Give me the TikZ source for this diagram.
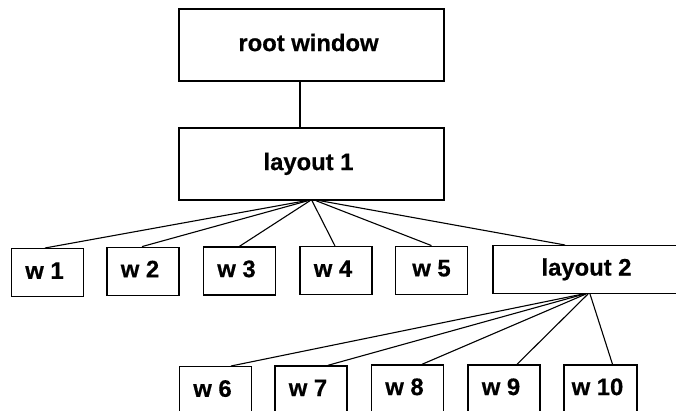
\documentclass[tikz,border=0pt]{standalone}
\usepackage{fontspec}
\setmainfont{Liberation Sans}
\newfontfamily\heavyfont{Liberation Sans}[UprightFont=*-Bold,FakeBold=0.6]
\begin{document}
\begin{tikzpicture}[x=1pt,y=-1pt,
  box/.style={draw,line width=1.4pt,inner sep=0pt,minimum width=72pt,minimum height=48pt,
    font=\heavyfont\fontsize{23.8}{28}\selectfont,text height=17pt,text depth=4.9pt},
  shiftl/.style={execute at begin node=\hspace*{-6pt}},
  big/.style={box,minimum width=265pt,minimum height=72pt},
  link/.style={line width=1.1pt}]
\path[use as bounding box] (0,0) rectangle (676,411);
\clip (0,0) rectangle (676,411);
\node[big,shiftl] (root) at (311.5,45) {root window};
\node[big,shiftl] (l1) at (311.5,164) {layout 1};
\node[box,shiftl] (w1) at (47.5,272.7) {w 1};
\node[box,shiftl] (w2) at (143,271.3) {w 2};
\node[box,shiftl] (w3) at (239.5,271) {w 3};
\node[box,shiftl] (w4) at (336,270.7) {w 4};
\node[box] (w5) at (431.5,270.3) {w 5};
\node[box,minimum width=187pt,minimum height=47.6pt] (l2) at (586.5,269.5) {layout 2};
\node[box,shiftl] (w6) at (215.5,390.7) {w 6};
\node[box,shiftl] (w7) at (311,390) {w 7};
\node[box,shiftl] (w8) at (407.5,389) {w 8};
\node[box,shiftl] (w9) at (504,389) {w 9};
\node[box,shiftl,minimum width=73pt] (w10) at (600.5,389) {w 10};
\draw[link] ([xshift=-11.5pt]root.south) -- ([xshift=-11.5pt]l1.north);
\draw[link] ([xshift=-5.5pt]l1.south) -- ([xshift=-2.5pt]w1.north);
\draw[link] ([xshift=-3.5pt]l1.south) -- ([xshift=-1pt]w2.north);
\draw[link] ([xshift=-1.5pt]l1.south) -- (w3.north);
\draw[link] ([xshift=0.5pt]l1.south) -- ([xshift=-1pt]w4.north);
\draw[link] ([xshift=4.5pt]l1.south) -- (w5.north);
\draw[link] ([xshift=8.5pt]l1.south) -- ([xshift=-21.5pt]l2.north);
\draw[link] ([xshift=-3.5pt]l2.south) -- ([xshift=15.5pt]w6.north);
\draw[link] ([xshift=-2pt]l2.south) -- ([xshift=17pt]w7.north);
\draw[link] ([xshift=-0.5pt]l2.south) -- ([xshift=14.5pt]w8.north);
\draw[link] ([xshift=1.5pt]l2.south) -- ([xshift=13pt]w9.north);
\draw[link] ([xshift=3.5pt]l2.south) -- ([xshift=12pt]w10.north);
\end{tikzpicture}
\end{document}
